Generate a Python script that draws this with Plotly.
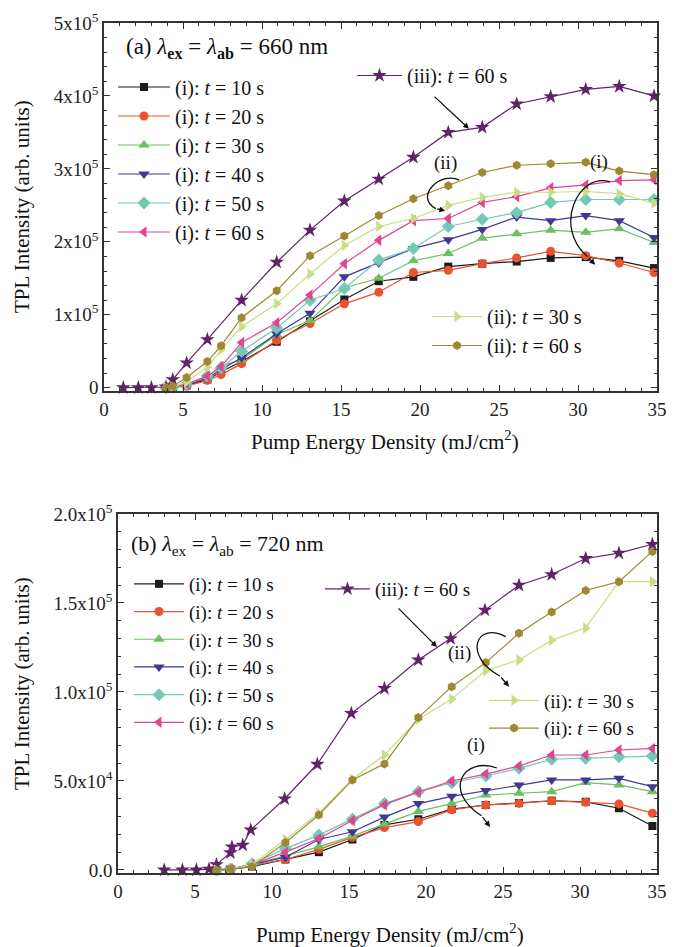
import plotly.graph_objects as go

FONT = "Times New Roman, Liberation Serif, serif"
# the page body adds an 8 px offset, so the figure is 8 px smaller than the window
OFF = 8
W, H = 679 - OFF, 947 - OFF

# ---------------- Panel (a) data : lambda = 660 nm ----------------
xa = [3.92, 4.35, 5.23, 6.54, 7.41, 8.71, 10.93, 13.04, 15.21, 17.39,
      19.58, 21.79, 23.94, 26.12, 28.27, 30.49, 32.61, 34.81]
a_t10 = [0, 500, 3000, 11000, 22000, 36000, 63000, 91000, 121000, 146000,
         152000, 166000, 170000, 173000, 178000, 179000, 174000, 164000]
a_t20 = [0, 300, 2000, 10000, 18000, 33000, 65000, 88000, 115000, 131000,
         158000, 161000, 170000, 178000, 187000, 181000, 171000, 158000]
a_t30 = [0, 500, 4000, 14000, 30000, 38000, 73000, 92000, 137000, 150000,
         174000, 184000, 205000, 211000, 216000, 213000, 218000, 199000]
a_t40 = [0, 500, 3500, 13000, 25000, 41000, 74000, 102000, 152000, 171000,
         191000, 203000, 217000, 234000, 229000, 236000, 229000, 206000]
a_t50 = [0, 500, 4000, 16000, 27000, 50000, 82000, 120000, 136000, 175000,
         191000, 221000, 231000, 240000, 254000, 258000, 258000, 258000]
a_t60 = [0, 1000, 5000, 16000, 29000, 62000, 89000, 127000, 170000, 202000,
         229000, 232000, 254000, 262000, 274000, 278000, 284000, 285000]
a_ii30 = [0, 1000, 8000, 28000, 52000, 84000, 115000, 156000, 195000, 221000,
          232000, 250000, 261000, 268000, 268000, 269000, 266000, 253000]
a_ii60 = [0, 2000, 14000, 36000, 57500, 96000, 133000, 181000, 208000, 236000,
          259000, 277000, 295000, 305000, 307000, 309000, 297000, 292000]
xa_iii = [1.22, 2.17, 3.0, 3.92, 4.35, 5.23, 6.54, 8.71, 10.93, 13.04, 15.21,
          17.39, 19.58, 21.79, 23.94, 26.12, 28.27, 30.49, 32.61, 34.81]
a_iii = [0, 0, 0, 1000, 11000, 34000, 66000, 120000, 172000, 216000, 256000,
         286000, 316000, 350000, 357000, 389000, 399000, 409000, 413000, 400000]

# ---------------- Panel (b) data : lambda = 720 nm ----------------
xb = [6.39, 7.3, 8.7, 10.87, 13.04, 15.22, 17.3, 19.5, 21.67, 23.88,
      26.04, 28.16, 30.37, 32.53, 34.7]
b_t10 = [0, 500, 1900, 5900, 10000, 17100, 25300, 28500, 34200, 36500,
         37600, 38900, 38300, 34700, 24700]
b_t20 = [0, 500, 2500, 5900, 11600, 18300, 23800, 27200, 33800, 36500,
         37400, 38900, 38000, 37100, 31900]
b_t30 = [0, 500, 3000, 8200, 13000, 19000, 25900, 32900, 37300, 42100,
         43100, 44000, 49100, 47800, 44000]
b_t40 = [0, 500, 3000, 7200, 17100, 21500, 29700, 37300, 41400, 44600,
         47800, 50600, 50600, 51500, 46800]
b_t50 = [0, 500, 3500, 12000, 19600, 28500, 37300, 44000, 49000, 52800,
         57100, 62200, 62700, 63600, 64000]
b_t60 = [0, 500, 3000, 10000, 17700, 27800, 36700, 43700, 50000, 53900,
         58400, 64600, 64600, 67400, 68300]
b_ii30 = [0, 500, 3000, 17100, 32000, 51000, 64600, 84700, 96000, 112000,
          118000, 129000, 136000, 162000, 162000]
b_ii60 = [0, 500, 1900, 15400, 30900, 50600, 59600, 85600, 103000, 116500,
          133000, 145000, 157000, 162000, 179000]
xb_iii = [3.0, 4.18, 5.09, 5.91, 6.39, 7.3, 7.4, 8.1, 8.62, 10.82, 12.94, 15.15,
          17.3, 19.5, 21.6, 23.83, 26.04, 28.16, 30.37, 32.53, 34.7]
b_iii = [0, 0, 0, 500, 3000, 9700, 13000, 14000, 22500, 40000, 59400, 88000,
         102000, 118000, 130000, 146000, 160000, 166000, 175000, 178000, 183000]

# tick labels
a_yticks = [0, 100000, 200000, 300000, 400000, 500000]
a_yticktext = ["0", "1x10<sup>5</sup>", "2x10<sup>5</sup>", "3x10<sup>5</sup>",
               "4x10<sup>5</sup>", "5x10<sup>5</sup>"]
b_yticks = [0, 50000, 100000, 150000, 200000]
b_yticktext = ["0.0", "5.0x10<sup>4</sup>", "1.0x10<sup>5</sup>",
               "1.5x10<sup>5</sup>", "2.0x10<sup>5</sup>"]

# series styles
C_BLACK = "#1c1c1c"
C_RED = "#ea5230"
C_GREEN = "#6cc060"
C_BLUE = "#3f3894"
C_TEAL = "#72c9b6"
C_PINK = "#e0468f"
C_LGREEN = "#c9de84"
C_OLIVE = "#9c8a32"
C_PURPLE = "#5f2468"

fig = go.Figure()


def add(xs, ys, name, color, symbol, size, xax, yax, legend):
    fig.add_trace(go.Scatter(
        x=xs, y=ys, mode="lines+markers", name=name,
        line=dict(color=color, width=1.2),
        marker=dict(symbol=symbol, size=size, color=color, line=dict(width=0)),
        xaxis=xax, yaxis=yax, legend=legend, cliponaxis=False))


T = "<i>t</i>"
series_a = [
    (xa, a_t10, "(i): %s = 10 s" % T, C_BLACK, "square", 8),
    (xa, a_t20, "(i): %s = 20 s" % T, C_RED, "circle", 9),
    (xa, a_t30, "(i): %s = 30 s" % T, C_GREEN, "triangle-up", 10),
    (xa, a_t40, "(i): %s = 40 s" % T, C_BLUE, "triangle-down", 10),
    (xa, a_t50, "(i): %s = 50 s" % T, C_TEAL, "diamond", 10),
    (xa, a_t60, "(i): %s = 60 s" % T, C_PINK, "triangle-left", 10),
]
for xs, ys, nm, c, s, sz in series_a:
    add(xs, ys, nm, c, s, sz, "x", "y", "legend")
add(xa_iii, a_iii, "(iii): %s = 60 s" % T, C_PURPLE, "star", 11, "x", "y", "legend2")
add(xa, a_ii30, "(ii): %s = 30 s" % T, C_LGREEN, "triangle-right", 10, "x", "y", "legend3")
add(xa, a_ii60, "(ii): %s = 60 s" % T, C_OLIVE, "hexagon", 9, "x", "y", "legend3")

series_b = [
    (xb, b_t10, "(i): %s = 10 s" % T, C_BLACK, "square", 8),
    (xb, b_t20, "(i): %s = 20 s" % T, C_RED, "circle", 9),
    (xb, b_t30, "(i): %s = 30 s" % T, C_GREEN, "triangle-up", 10),
    (xb, b_t40, "(i): %s = 40 s" % T, C_BLUE, "triangle-down", 10),
    (xb, b_t50, "(i): %s = 50 s" % T, C_TEAL, "diamond", 10),
    (xb, b_t60, "(i): %s = 60 s" % T, C_PINK, "triangle-left", 10),
]
for xs, ys, nm, c, s, sz in series_b:
    add(xs, ys, nm, c, s, sz, "x2", "y2", "legend4")
add(xb_iii, b_iii, "(iii): %s = 60 s" % T, C_PURPLE, "star", 11, "x2", "y2", "legend5")
add(xb, b_ii30, "(ii): %s = 30 s" % T, C_LGREEN, "triangle-right", 10, "x2", "y2", "legend6")
add(xb, b_ii60, "(ii): %s = 60 s" % T, C_OLIVE, "hexagon", 9, "x2", "y2", "legend6")

AX = dict(showline=True, linecolor="#333333", linewidth=1.5, mirror="ticks",
          ticks="inside", ticklen=6, tickwidth=1.2, tickcolor="#333333",
          showgrid=False, zeroline=False, automargin=False,
          tickfont=dict(family=FONT, size=19, color="#222222"))


def px_x(p):
    """window pixel -> paper fraction"""
    return (p - OFF) / W


def px_y(p):
    return 1 - (p - OFF) / H


xaxis_common = dict(AX, range=[0, 35], tickmode="array",
                    tickvals=[0, 5, 10, 15, 20, 25, 30, 35],
                    minor=dict(dtick=1, ticks="inside", ticklen=3,
                               tickcolor="#333333", tickwidth=1))

fig.update_layout(
    width=W, height=H, paper_bgcolor="white", plot_bgcolor="white",
    margin=dict(l=0, r=0, t=0, b=0, autoexpand=False),
    font=dict(family=FONT, color="#111111"),
    xaxis=dict(xaxis_common, domain=[px_x(104), px_x(657)], anchor="y"),
    yaxis=dict(AX, domain=[px_y(391), px_y(23)], anchor="x",
               range=[-4500, 500000], tickmode="array",
               tickvals=a_yticks, ticktext=a_yticktext,
               tickfont=dict(family=FONT, size=19, color="#222222"),
               minor=dict(dtick=20000, ticks="inside", ticklen=3,
                          tickcolor="#333333", tickwidth=1)),
    xaxis2=dict(xaxis_common, domain=[px_x(118), px_x(657)], anchor="y2"),
    yaxis2=dict(AX, domain=[px_y(873), px_y(514)], anchor="x2",
                range=[-1700, 200000], tickmode="array",
                tickvals=b_yticks, ticktext=b_yticktext,
                tickfont=dict(family=FONT, size=19, color="#222222"),
                minor=dict(dtick=10000, ticks="inside", ticklen=3,
                           tickcolor="#333333", tickwidth=1)),
)

LEG = dict(bgcolor="rgba(0,0,0,0)", borderwidth=0, xanchor="left",
           yanchor="top", tracegroupgap=0)
fig.update_layout(
    legend=dict(LEG, x=px_x(113), y=px_y(67.5), itemwidth=52,
                font=dict(family=FONT, size=20, color="#111")),
    legend2=dict(LEG, x=px_x(352), y=px_y(56), itemwidth=45,
                 font=dict(family=FONT, size=20, color="#111")),
    legend3=dict(LEG, x=px_x(427), y=px_y(297), itemwidth=50,
                 font=dict(family=FONT, size=20, color="#111")),
    legend4=dict(LEG, x=px_x(129), y=px_y(565), itemwidth=50,
                 font=dict(family=FONT, size=19, color="#111")),
    legend5=dict(LEG, x=px_x(320), y=px_y(570), itemwidth=45,
                 font=dict(family=FONT, size=19, color="#111")),
    legend6=dict(LEG, x=px_x(484), y=px_y(681.5), itemwidth=50,
                 font=dict(family=FONT, size=19, color="#111")),
)

ann = []
# panel labels
ann.append(dict(xref="paper", yref="paper", x=px_x(124), y=px_y(48),
                xanchor="left", yanchor="middle", showarrow=False,
                text="(a) <i>λ</i><sub><b>ex</b></sub> = <i>λ</i><sub><b>ab</b></sub> = 660 nm",
                font=dict(family=FONT, size=23, color="#111")))
ann.append(dict(xref="paper", yref="paper", x=px_x(129), y=px_y(545),
                xanchor="left", yanchor="middle", showarrow=False,
                text="(b) <i>λ</i><sub>ex</sub> = <i>λ</i><sub>ab</sub> = 720 nm",
                font=dict(family=FONT, size=22, color="#111")))
# axis titles
for yc in (207, 684):
    ann.append(dict(xref="paper", yref="paper", x=px_x(22), y=px_y(yc),
                    xanchor="center", yanchor="middle", showarrow=False,
                    textangle=-90, text="TPL Intensity (arb. units)",
                    font=dict(family=FONT, size=21, color="#111")))
for xc, yc in ((385, 440), (390, 933)):
    ann.append(dict(xref="paper", yref="paper", x=px_x(xc), y=px_y(yc),
                    xanchor="center", yanchor="middle", showarrow=False,
                    text="Pump Energy Density (mJ/cm<sup>2</sup>)",
                    font=dict(family=FONT, size=21, color="#111")))
# in-plot labels
TXT = dict(showarrow=False, font=dict(family=FONT, size=19, color="#111"))
ann.append(dict(TXT, xref="x", yref="y", x=21.6, y=308000, text="(ii)"))
ann.append(dict(TXT, xref="x", yref="y", x=31.3, y=310000, text="(i)"))
ann.append(dict(TXT, xref="x2", yref="y2", x=22.2, y=122000, text="(ii)"))
ann.append(dict(TXT, xref="x2", yref="y2", x=23.25, y=70200, text="(i)"))
# straight arrows
ARR = dict(showarrow=True, arrowhead=2, arrowsize=0.9, arrowwidth=1.3,
           arrowcolor="#111", text="")
ann.append(dict(ARR, xref="x", yref="y", axref="x", ayref="y",
                x=23.1, y=355000, ax=20.82, ay=401000))
ann.append(dict(ARR, xref="x2", yref="y2", axref="x2", ayref="y2",
                x=20.71, y=125300, ax=18.12, ay=147800))
# heads of curved arrows
ann.append(dict(ARR, xref="x", yref="y", axref="x", ayref="y",
                x=21.6, y=242500, ax=21.0, ay=245500))
ann.append(dict(ARR, xref="x", yref="y", axref="x", ayref="y",
                x=31.08, y=168500, ax=30.6, ay=180000))
ann.append(dict(ARR, xref="x2", yref="y2", axref="x2", ayref="y2",
                x=25.39, y=103000, ax=24.8, ay=109000))
ann.append(dict(ARR, xref="x2", yref="y2", axref="x2", ayref="y2",
                x=24.16, y=24200, ax=23.6, ay=30500))
fig.update_layout(annotations=ann)

CURVE = dict(type="path", line=dict(color="#111", width=1.3))
fig.update_layout(shapes=[
    dict(CURVE, xref="x", yref="y",
         path="M 22.47,284900 C 21.3,297000 19.6,262000 21.0,245500"),
    dict(CURVE, xref="x", yref="y",
         path="M 32.03,282200 C 30.0,296000 28.4,220000 30.6,180000"),
    dict(CURVE, xref="x2", yref="y2",
         path="M 25.18,131100 C 23.2,140000 22.4,120000 24.8,109000"),
    dict(CURVE, xref="x2", yref="y2",
         path="M 24.61,57300 C 22.5,64000 21.0,45000 23.6,30500"),
])

fig.write_html("out.html")
